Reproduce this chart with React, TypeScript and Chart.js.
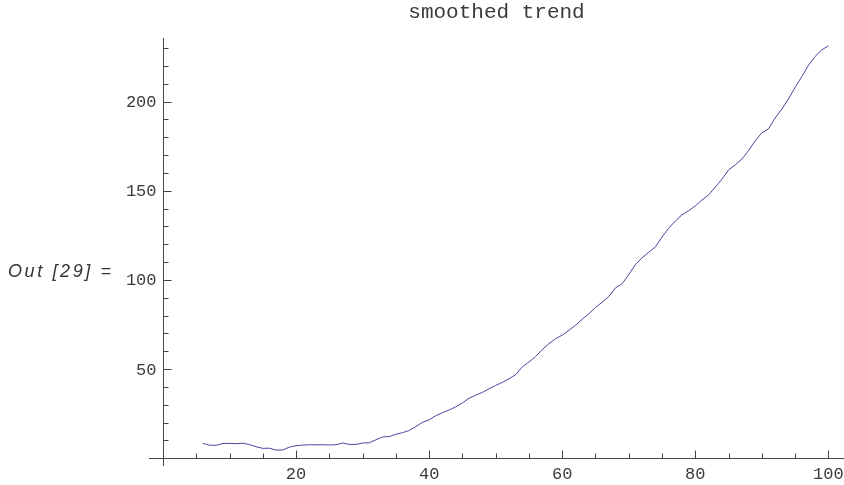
import React, { useEffect, useRef } from "react";
import { Chart, registerables } from "chart.js";

Chart.register(...registerables);

const titleText = "smoothed trend";
const outLabel = "Out [29] =";

const xValues: number[] = [
  6, 7, 8, 9, 10, 11, 12, 13, 14, 15, 16, 17, 18, 19, 20, 21, 22, 23, 24, 25,
  26, 27, 28, 29, 30, 31, 32, 33, 34, 35, 36, 37, 38, 39, 40, 41, 42, 43, 44, 45,
  46, 47, 48, 49, 50, 51, 52, 53, 54, 55, 56, 57, 58, 59, 60, 61, 62, 63, 64, 65,
  66, 67, 68, 69, 70, 71, 72, 73, 74, 75, 76, 77, 78, 79, 80, 81, 82, 83, 84, 85,
  86, 87, 88, 89, 90, 91, 92, 93, 94, 95, 96, 97, 98, 99, 100,
];

const yValues: number[] = [
  8.3, 7.3, 7.2, 8.2, 8.3, 8.1, 8.4, 7.6, 6.4, 5.5, 5.6, 4.5, 4.6, 6.2, 7.0, 7.3, 7.5, 7.5, 7.5, 7.4,
  7.5, 8.5, 7.7, 7.7, 8.5, 8.6, 10.3, 11.9, 12.1, 13.4, 14.3, 15.5, 17.7, 20.1, 21.5, 23.8, 25.5, 27.0, 28.8, 31.0,
  33.6, 35.3, 36.9, 38.9, 40.8, 42.5, 44.5, 46.8, 51.2, 53.9, 57.0, 60.9, 64.2, 67.0, 69.0, 71.7, 74.6, 77.9, 81.0, 84.5,
  87.5, 90.6, 95.5, 97.8, 103.0, 108.6, 112.4, 115.5, 118.5, 124.0, 129.0, 133.0, 136.5, 138.8, 141.5, 144.8, 147.7, 152.0, 156.5, 161.7,
  164.5, 167.8, 172.5, 178.0, 182.5, 184.7, 190.8, 195.8, 201.5, 208.0, 214.0, 220.3, 225.3, 229.0, 231.3,
];

const xMajorTicks: number[] = [20, 40, 60, 80, 100];
const xMinorTicks: number[] = [5, 10, 15, 25, 30, 35, 45, 50, 55, 65, 70, 75, 85, 90, 95];
const yMajorTicks: number[] = [50, 100, 150, 200];
const yMinorTicks: number[] = [
  10, 20, 30, 40, 60, 70, 80, 90, 110, 120, 130, 140, 160, 170, 180, 190, 210, 220, 230,
];

const axisColor = "#444444";
const labelColor = "#3a3a3a";

const mathAxesPlugin = {
  id: "mathAxes",
  beforeDatasetsDraw(chart: any) {
    const { ctx, chartArea, scales } = chart;
    const xs = scales.x;
    const ys = scales.y;
    const x0 = Math.round(xs.getPixelForValue(0)) + 0.5;
    const y0 = Math.round(ys.getPixelForValue(0)) + 0.5;
    ctx.save();
    ctx.strokeStyle = axisColor;
    ctx.lineWidth = 1;
    ctx.beginPath();
    ctx.moveTo(chartArea.left, y0);
    ctx.lineTo(chartArea.right, y0);
    ctx.moveTo(x0, chartArea.top);
    ctx.lineTo(x0, chartArea.bottom);
    xMajorTicks.forEach((v) => {
      const p = Math.round(xs.getPixelForValue(v)) + 0.5;
      ctx.moveTo(p, y0);
      ctx.lineTo(p, y0 - 8);
    });
    xMinorTicks.forEach((v) => {
      const p = Math.round(xs.getPixelForValue(v)) + 0.5;
      ctx.moveTo(p, y0);
      ctx.lineTo(p, y0 - 5);
    });
    yMajorTicks.forEach((v) => {
      const p = Math.round(ys.getPixelForValue(v)) + 0.5;
      ctx.moveTo(x0, p);
      ctx.lineTo(x0 + 8, p);
    });
    yMinorTicks.forEach((v) => {
      const p = Math.round(ys.getPixelForValue(v)) + 0.5;
      ctx.moveTo(x0, p);
      ctx.lineTo(x0 + 5, p);
    });
    ctx.stroke();

    ctx.fillStyle = labelColor;
    ctx.font = '17px "Liberation Mono", "DejaVu Sans Mono", monospace';
    ctx.textAlign = "center";
    ctx.textBaseline = "middle";
    xMajorTicks.forEach((v) => {
      ctx.fillText(String(v), xs.getPixelForValue(v), y0 + 16);
    });
    ctx.textAlign = "right";
    yMajorTicks.forEach((v) => {
      ctx.fillText(String(v), x0 - 7, ys.getPixelForValue(v) + 1);
    });
    ctx.restore();
  },
};

export default function App() {
  const canvasRef = useRef<HTMLCanvasElement | null>(null);

  useEffect(() => {
    const canvas = canvasRef.current;
    if (!canvas) return;
    const points = xValues.map((x, i) => ({ x, y: yValues[i] }));
    const chart = new Chart(canvas, {
      type: "scatter",
      data: {
        datasets: [
          {
            data: points,
            showLine: true,
            borderColor: "#4646a0",
            borderWidth: 1,
            pointRadius: 0,
            tension: 0,
            fill: false,
          },
        ],
      },
      options: {
        animation: false,
        responsive: false,
        devicePixelRatio: 1,
        layout: { padding: { left: 149, right: 0, top: 0, bottom: 19 } },
        plugins: {
          legend: { display: false },
          tooltip: { enabled: false },
          title: {
            display: true,
            text: titleText,
            color: labelColor,
            font: { family: '"Liberation Mono", monospace', size: 21, weight: "normal", lineHeight: 1.2 },
            padding: { top: 0, bottom: 12.8 },
          },
        },
        scales: {
          x: { type: "linear", min: -2.1, max: 102.35, display: false },
          y: { type: "linear", min: -4.4, max: 235.7, display: false },
        },
      },
      plugins: [mathAxesPlugin],
    });
    return () => chart.destroy();
  }, []);

  return (
    <div style={{ position: "fixed", left: 0, top: 0, width: 844, height: 485, background: "#fff" }}>
      <canvas ref={canvasRef} width={844} height={485} style={{ width: 844, height: 485, display: "block" }} />
      <div
        style={{
          position: "absolute",
          left: 8,
          top: 260,
          fontFamily: '"Liberation Sans", Arial, sans-serif',
          fontStyle: "italic",
          fontSize: 18,
          letterSpacing: 2.6,
          color: "#333",
          whiteSpace: "pre",
          lineHeight: "22px",
        }}
      >
        {outLabel}
      </div>
    </div>
  );
}
